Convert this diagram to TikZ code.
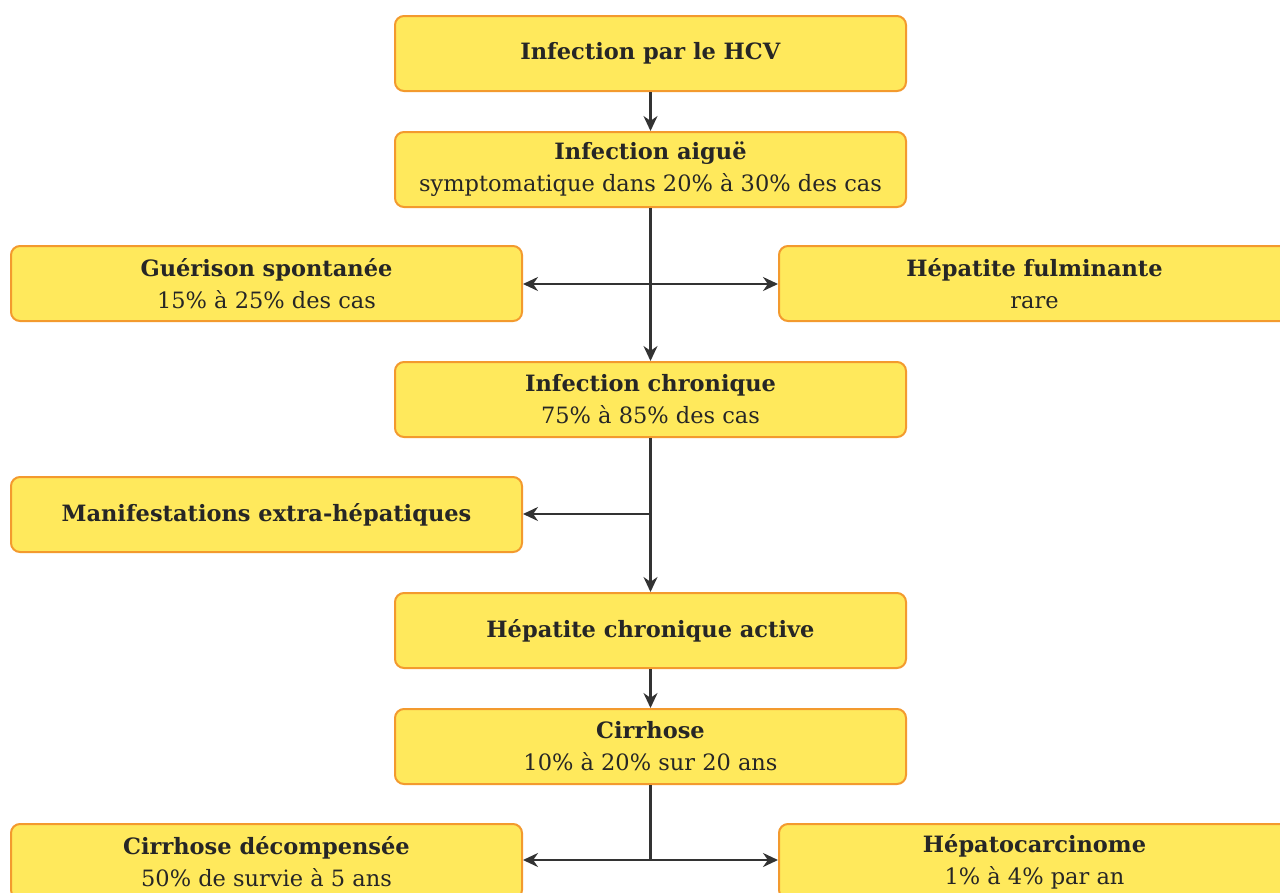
\documentclass[tikz,border=0pt]{standalone}
\usepackage{fontspec}
\setmainfont{DejaVu Serif}
\usetikzlibrary{arrows.meta}
\definecolor{boxfill}{HTML}{FFE95C}
\definecolor{boxline}{HTML}{F39A2E}
\definecolor{arr}{HTML}{333333}
\begin{document}
\begin{tikzpicture}[x=1pt,y=-1pt,
  box/.style={draw=boxline,fill=boxfill,line width=2pt,rounded corners=9pt,
    minimum width=511pt,minimum height=75pt,align=center,inner sep=0pt,
    font=\fontsize{22.5}{32}\selectfont,text=black!85},
  tip/.tip={Stealth[length=15pt,width=14pt]},
  conn/.style={draw=arr,line width=2.2pt,-tip},
  conn2/.style={draw=arr,line width=2.2pt,tip-tip}]
\clip (0,0) rectangle (1280,892);
\fill[white] (0,0) rectangle (1280,892);
\node[box] (hcv) at (650.5,53.5) {\textbf{Infection par le HCV}};
\node[box] (aigue) at (650.5,169.5) {\textbf{Infection aiguë}\\symptomatique dans 20\% à 30\% des cas};
\node[box] (guer) at (266.5,283.5) {\textbf{Guérison spontanée}\\15\% à 25\% des cas};
\node[box] (fulm) at (1034.5,283.5) {\textbf{Hépatite fulminante}\\rare};
\node[box] (chron) at (650.5,399.5) {\textbf{Infection chronique}\\75\% à 85\% des cas};
\node[box] (manif) at (266.5,514.5) {\textbf{Manifestations extra-hépatiques}};
\node[box] (active) at (650.5,630.5) {\textbf{Hépatite chronique active}};
\node[box] (cirr) at (650.5,746.5) {\textbf{Cirrhose}\\10\% à 20\% sur 20 ans};
\node[box] (decomp) at (266.5,861.5) {\textbf{Cirrhose décompensée}\\50\% de survie à 5 ans};
\node[box] (hepca) at (1034.5,861.5) {\textbf{Hépatocarcinome}\\1\% à 4\% par an};
\coordinate (j1) at (650.5,284);
\coordinate (j2) at (650.5,514);
\coordinate (j3) at (650.5,860);
\draw[conn] (hcv.south) -- (aigue.north);
\draw[conn] (aigue.south) -- (chron.north);
\draw[conn2] (guer.east |- j1) -- (fulm.west |- j1);
\draw[conn] (chron.south) -- (active.north);
\draw[conn] (j2) -- (manif.east |- j2);
\draw[conn] (active.south) -- (cirr.north);
\draw[draw=arr,line width=2.2pt] (cirr.south) -- (j3);
\draw[conn2] (decomp.east |- j3) -- (hepca.west |- j3);
\end{tikzpicture}
\end{document}
